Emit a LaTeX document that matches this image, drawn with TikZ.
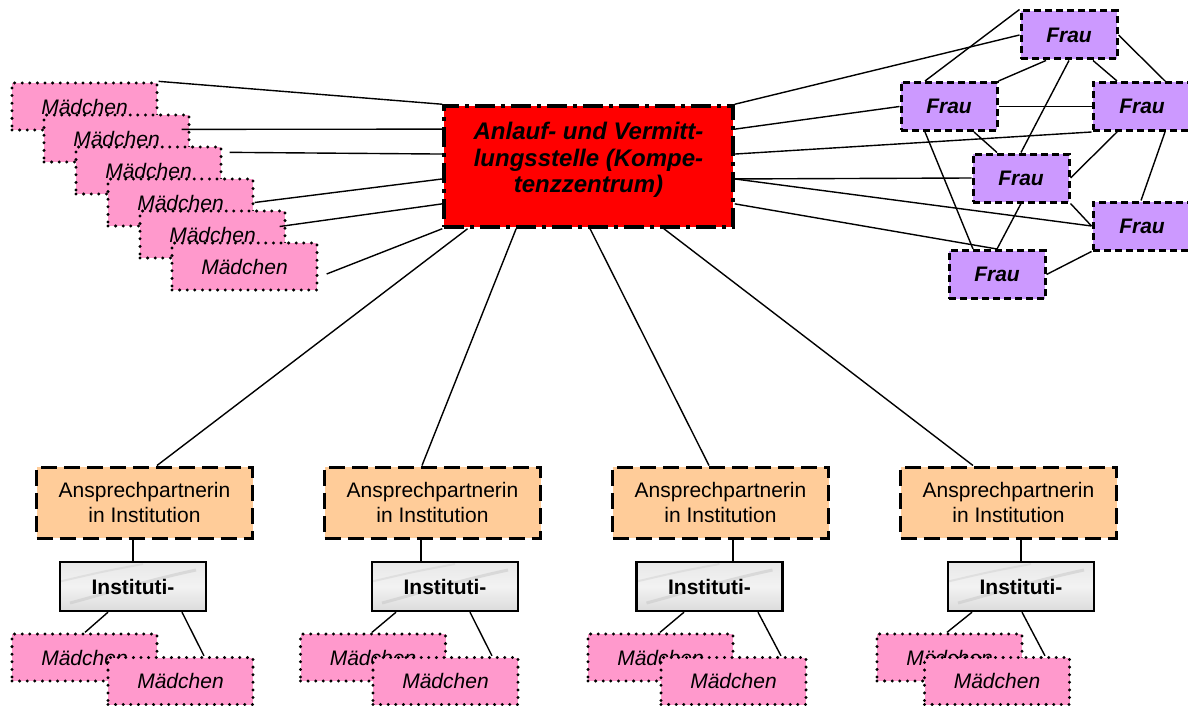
\documentclass[tikz,border=0pt]{standalone}
\usepackage{fontspec}
\setmainfont{Liberation Sans}
\usetikzlibrary{calc}
\definecolor{pinkM}{HTML}{FF99CC}
\definecolor{violetF}{HTML}{CC99FF}
\definecolor{orangeA}{HTML}{FFCC99}
\definecolor{redC}{HTML}{FF0000}
\begin{document}
\begin{tikzpicture}[x=1pt,y=-1pt,
  conn/.style={line width=1.4pt},
  madchen/.style={draw, fill=pinkM, line width=3.3pt, dash pattern=on 0pt off 7.6pt, line cap=round,
    minimum width=145pt, minimum height=47pt, inner sep=0pt, font=\fontsize{21}{25}\selectfont\itshape},
  frau/.style={draw, fill=violetF, line width=3pt, dash pattern=on 7pt off 4pt,
    minimum width=96pt, minimum height=48pt, inner sep=0pt, font=\fontsize{21}{25}\selectfont\bfseries\itshape},
  ansprech/.style={draw, fill=orangeA, line width=3pt, dash pattern=on 16pt off 7pt,
    minimum width=216pt, minimum height=71pt, inner sep=0pt, align=center, font=\fontsize{21}{25}\selectfont},
  instbox/.style={draw, line width=2.4pt, top color=gray!18, bottom color=gray!28, middle color=gray!10,
    minimum width=146pt, minimum height=49pt, inner sep=0pt, font=\fontsize{21}{25}\selectfont\bfseries,
    path picture={
      \draw[gray!45, line width=3pt, opacity=0.5] ($(path picture bounding box.south west)+(10,-8)$) .. controls ($(path picture bounding box.center)+(-20,5)$) and ($(path picture bounding box.center)+(10,-5)$) .. ($(path picture bounding box.north east)+(-10,8)$);
      \draw[gray!35, line width=2pt, opacity=0.5] ($(path picture bounding box.west)+(0,-5)$) .. controls ($(path picture bounding box.center)+(-30,-15)$) .. ($(path picture bounding box.north)+(10,2)$);
    }},
  central/.style={draw, fill=redC, line width=3.5pt, dash pattern=on 20pt off 6pt on 4pt off 6pt,
    minimum width=289pt, minimum height=121pt, inner sep=0pt}
]
\useasboundingbox (0,0) rectangle (1188,706);

% left stack of Mädchen
\node[madchen] (m1) at (84.5,106.5) {Mädchen};
\node[madchen] (m2) at (116.5,138.5) {Mädchen};
\node[madchen] (m3) at (148.5,170.5) {Mädchen};
\node[madchen] (m4) at (180.5,202.5) {Mädchen};
\node[madchen] (m5) at (212.5,234.5) {Mädchen};
\node[madchen] (m6) at (244.5,266.5) {Mädchen};

% central node
\node[central] (cen) at (588.5,166.5) {};
\node[align=center, inner sep=0pt, font=\fontsize{24}{26.5}\selectfont\bfseries\itshape] (centxt) at (588.5,160)
  {Anlauf- und Vermitt-\\lungsstelle (Kompe-\\tenzzentrum)};

% Frau nodes
\node[frau] (f1) at (1069,35) {Frau};
\node[frau] (f2) at (949,106.5) {Frau};
\node[frau, minimum width=98pt] (f3) at (1142,106.5) {Frau};
\node[frau] (f4) at (1021,178) {Frau};
\node[frau, minimum width=98pt] (f5) at (1142,226) {Frau};
\node[frau] (f6) at (997,274.5) {Frau};

% bottom groups
\foreach \i/\ax/\ix/\max/\mbx in {1/144.5/133/84.5/180.5, 2/432.5/445/373/445.5, 3/720.5/709.5/660.5/733.5, 4/1008.5/1021/949.5/997}{
  \node[ansprech] (a\i) at (\ax,502.5) {Ansprechpartnerin\\in Institution};
  \node[instbox] (i\i) at (\ix,586.5) {Instituti-};
  \node[madchen] (ma\i) at (\max,657.5) {Mädchen};
  \node[madchen] (mb\i) at (\mbx,681) {Mädchen};
}

% left connectors
\draw[conn] (m1.north east) -- (cen.north west);
\draw[conn] ($(m2.north east)+(-9,16)$) -- ($(cen.north west)!0.2!(cen.south west)$);
\draw[conn] ($(m3.north east)+(7,7)$) -- ($(cen.north west)!0.4!(cen.south west)$);
\draw[conn] (m4.east) -- ($(cen.north west)!0.6!(cen.south west)$);
\draw[conn] ($(m5.east)+(-7,-8)$) -- ($(cen.north west)!0.8!(cen.south west)$);
\draw[conn] ($(m6.east)+(8,7.5)$) -- (cen.south west);

% right connectors
\draw[conn] (cen.north east) -- (f1.west);
\draw[conn] ($(cen.north east)!0.2!(cen.south east)$) -- (f2.west);
\draw[conn] ($(cen.north east)!0.4!(cen.south east)$) -- (f3.south west);
\draw[conn] ($(cen.north east)!0.6!(cen.south east)$) -- (f4.west);
\draw[conn] ($(cen.north east)!0.6!(cen.south east)$) -- (f5.west);
\draw[conn] ($(cen.north east)!0.8!(cen.south east)$) -- (f6.north);

% Frau network
\draw[conn] (f1.north west) -- ($(f2.north)+(-24,0)$);
\draw[conn] ($(f1.south)+(-23,0)$) -- (f2.north east);
\draw[conn] (f1.south) -- (f4.north);
\draw[conn] ($(f1.south)+(24,0)$) -- ($(f3.north)+(-25,0)$);
\draw[conn] (f1.east) -- ($(f3.north)+(23,0)$);
\draw[conn] (f2.east) -- (f3.west);
\draw[conn] ($(f2.south)+(-24,0)$) -- ($(f6.north)+(-24,0)$);
\draw[conn] ($(f2.south)+(25,0)$) -- ($(f4.north)+(-24,0)$);
\draw[conn] ($(f3.south)+(-25,0)$) -- (f4.east);
\draw[conn] ($(f3.south)+(23,0)$) -- ($(f5.north)+(-1,0)$);
\draw[conn] (f4.south) -- (f6.north);
\draw[conn] (f4.south east) -- (f5.west);
\draw[conn] (f6.east) -- (f5.south west);

% central to Ansprechpartnerin
\draw[conn] ($(cen.south west)!0.0865!(cen.south east)$) -- ($(a1.north)+(12.5,0)$);
\draw[conn] ($(cen.south west)!0.2526!(cen.south east)$) -- ($(a2.north)+(-10.5,0)$);
\draw[conn] ($(cen.south west)!0.5052!(cen.south east)$) -- ($(a3.north)+(-11.5,0)$);
\draw[conn] ($(cen.south west)!0.7578!(cen.south east)$) -- ($(a4.north)+(-35.5,0)$);

% Ansprechpartnerin to Institution to Mädchen
\draw[conn] ($(a1.south)+(-11.5,0)$) -- (i1.north);
\draw[conn] ($(a2.south)+(-11.5,0)$) -- ($(i2.north)+(-24,0)$);
\draw[conn] ($(a3.south)+(12.5,0)$) -- ($(i3.north)+(23.5,0)$);
\draw[conn] ($(a4.south)+(12.5,0)$) -- (i4.north);

\draw[conn] ($(i1.south)+(-25,0)$) -- ($(ma1.north)+(0.5,0)$);
\draw[conn] ($(i1.south)+(49,0)$) -- ($(mb1.north)+(23.5,0)$);
\draw[conn] ($(i2.south)+(-49,0)$) -- ($(ma2.north)+(-1,0)$);
\draw[conn] ($(i2.south)+(25,0)$) -- ($(mb2.north)+(46.5,0)$);
\draw[conn] ($(i3.south)+(-25.5,0)$) -- ($(ma3.north)+(-0.5,0)$);
\draw[conn] ($(i3.south)+(48.5,0)$) -- ($(mb3.north)+(47.5,0)$);
\draw[conn] ($(i4.south)+(-49,0)$) -- ($(ma4.north)+(-2.5,0)$);
\draw[conn] ($(i4.south)+(1,0)$) -- ($(mb4.north)+(48,0)$);
\end{tikzpicture}
\end{document}
